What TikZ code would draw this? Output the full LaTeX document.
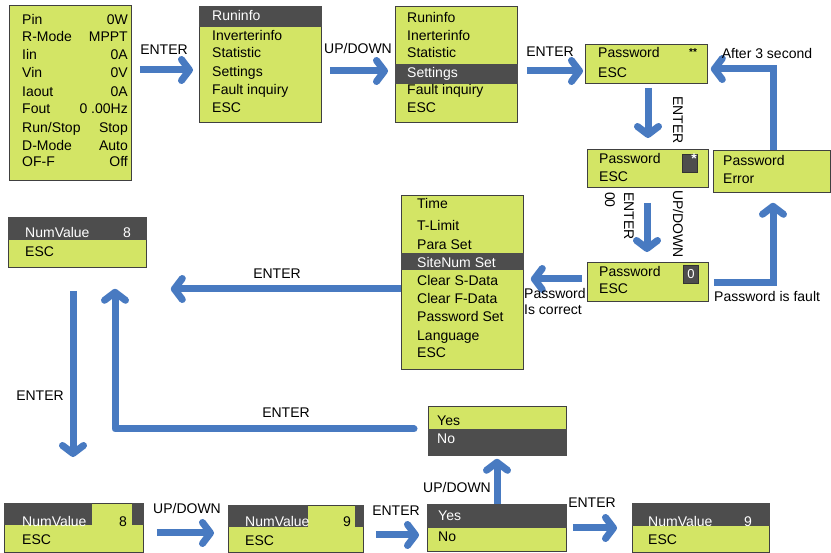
\documentclass[tikz,border=0pt]{standalone}
\usepackage{fontspec}
\setmainfont{Liberation Sans}
\usetikzlibrary{arrows.meta,positioning}

\definecolor{lcdgreen}{RGB}{211,229,101}
\definecolor{lcddark}{RGB}{77,77,77}
\definecolor{flowblue}{RGB}{72,122,193}

\begin{document}
\begin{tikzpicture}[x=1pt, y=-1pt,
  every node/.style={inner sep=0pt},
  scr/.style ={draw=black!75, line width=0.8pt, fill=lcdgreen, anchor=north west},
  key/.style ={draw=black!80, line width=0.6pt, fill=lcddark, minimum width=15, minimum height=18},
  it/.style  ={anchor=base west, font=\fontsize{14}{16}\selectfont},
  itr/.style ={anchor=base east, font=\fontsize{14}{16}\selectfont},
  lbl/.style ={font=\fontsize{14}{16.5}\selectfont},
  fa/.style  ={-{Straight Barb[round, length=8pt, width=21pt]}, line width=7pt, flowblue},
]
\useasboundingbox (0,0) rectangle (831,553);

%% ─── Screens ─────────────────────────────────────────────────────────────────
\node[scr, minimum width=122, minimum height=175] (stat) at (9,5)     {};
\node[scr, minimum width=122, minimum height=116] (run)  at (199,6)   {};
\node[scr, minimum width=122, minimum height=116] (set)  at (395,6)   {};
\node[scr, minimum width=122, minimum height=39]  (pw1)  at (585,44)  {};
\node[scr, minimum width=121, minimum height=38]  (pw2)  at (587,149) {};
\node[scr, minimum width=117, minimum height=42]  (err)  at (713,150) {};
\node[scr, minimum width=121, minimum height=39]  (pw3)  at (587,262) {};
\node[scr, minimum width=122, minimum height=174] (tm)   at (401,195) {};
\node[scr, minimum width=138, minimum height=50]  (nv1)  at (8,217)   {};
\node[scr, minimum width=138, minimum height=49]  (yn1)  at (428,406) {};
\node[scr, minimum width=139, minimum height=49]  (nv2)  at (4,503)   {};
\node[scr, minimum width=135, minimum height=47]  (nv3)  at (228,505) {};
\node[scr, minimum width=139, minimum height=47]  (yn2)  at (427,504) {};
\node[scr, minimum width=137, minimum height=49]  (nv4)  at (632,503) {};

% selected rows (dark bars)
\fill[lcddark] (run.north west) rectangle (run.east |- 0,27);
\fill[lcddark] (set.west |- 0,64)  rectangle (set.east |- 0,84);
\fill[lcddark] (tm.west |- 0,253)  rectangle (tm.east |- 0,270);
\fill[lcddark] (nv1.north west)    rectangle (nv1.east |- 0,240);
\fill[lcddark] (yn1.west |- 0,429) rectangle (yn1.south east);
\fill[lcddark] (nv2.north west)    rectangle (92,525);
\fill[lcddark] (132,503)           rectangle (nv2.east |- 0,525);
\fill[lcddark] (nv3.north west)    rectangle (308,527);
\fill[lcddark] (355,505)           rectangle (nv3.east |- 0,527);
\fill[lcddark] (yn2.north west)    rectangle (yn2.east |- 0,528);
\fill[lcddark] (nv4.north west)    rectangle (nv4.east |- 0,526);

%% ─── Screen texts ────────────────────────────────────────────────────────────
\foreach \l/\r/\y [count=\i] in {Pin/0W/25, R-Mode/MPPT/42, Iin/0A/60, Vin/0V/78,
    Iaout/0A/97, Fout/0 .00Hz/114, {Run/Stop}/Stop/133, D-Mode/Auto/151, OF-F/Off/167} {
  \node[it]  (st-l\i) at (22,\y)  {\l};
  \node[itr] (st-r\i) at (128,\y) {\r};
}

\node[it, white] (run-h) at (212,21) {Runinfo};
\foreach \t/\y [count=\i] in {Inverterinfo/41, Statistic/58, Settings/77, Fault inquiry/95, ESC/113} {
  \node[it] (run-\i) at (212,\y) {\t};
}

\foreach \t/\y/\c [count=\i] in {Runinfo/23/black, Inerterinfo/41/black, Statistic/58/black,
    Settings/78/white, Fault inquiry/95/black, ESC/113/black} {
  \node[it, text=\c] (set-\i) at (407,\y) {\t};
}

\node[it] (pw1-a) at (598,58) {Password};
\node[it] (pw1-b) at (598,78) {ESC};
\node[font=\fontsize{10}{12}\selectfont\bfseries] (pw1-s) at (693,52) {**};

\node[it] (pw2-a) at (599,164) {Password};
\node[it] (pw2-b) at (599,182) {ESC};
\node[key] (pw2-k) at (689.5,163) {};
\node[white, font=\fontsize{14}{14}\selectfont\bfseries] (pw2-s) at (694,159) {*};

\node[it] (err-a) at (723,166) {Password};
\node[it] (err-b) at (723,184) {Error};

\node[it] (pw3-a) at (599,277) {Password};
\node[it] (pw3-b) at (599,294) {ESC};
\node[key, text=white, font=\fontsize{13}{15}\selectfont] (pw3-k) at (691,274) {0};

\foreach \t/\y/\c [count=\i] in {Time/209/black, T-Limit/231/black, Para Set/250/black,
    SiteNum Set/268/white, Clear S-Data/286/black, Clear F-Data/304/black,
    Password Set/322/black, Language/341/black, ESC/358/black} {
  \node[it, text=\c] (tm-\i) at (417,\y) {\t};
}

\node[it, white]         (nv1-a) at (25,238)  {NumValue};
\node[it, white, anchor=base] (nv1-v) at (127,238) {8};
\node[it]                (nv1-b) at (25,257)  {ESC};

\node[it]        (yn1-a) at (437,426) {Yes};
\node[it, white] (yn1-b) at (437,444) {No};

\node[it, white]         (nv2-a) at (22,526)  {NumValue};
\node[it, anchor=base]   (nv2-v) at (123,526) {8};
\node[it]                (nv2-b) at (22,544)  {ESC};

\node[it, white]         (nv3-a) at (245,526) {NumValue};
\node[it, anchor=base]   (nv3-v) at (347,526) {9};
\node[it]                (nv3-b) at (245,546) {ESC};

\node[it, white] (yn2-a) at (438,521) {Yes};
\node[it]        (yn2-b) at (438,541) {No};

\node[it, white]              (nv4-a) at (648,526) {NumValue};
\node[it, white, anchor=base] (nv4-v) at (748,526) {9};
\node[it]                     (nv4-b) at (648,544) {ESC};

%% ─── Flow arrows ─────────────────────────────────────────────────────────────
\draw[fa, shorten <=8, shorten >=6]  (stat.east |- 0,70) -- (run.west |- 0,70);
\draw[fa, shorten <=8, shorten >=7]  (run.east |- 0,71)  -- (set.west |- 0,71);
\draw[fa, shorten <=9, shorten >=2]  (set.east |- 0,71)  -- (pw1.west |- 0,71);
\draw[fa, shorten <=4, shorten >=11] (pw1.south -| 648,0) -- (pw2.north -| 648,0);
\draw[fa, shorten >=3]               (err.north -| 773,0) |- (pw1.east |- 0,69);
\draw[fa, shorten <=15, shorten >=10] (pw2.south -| 647,0) -- (pw3.north -| 647,0);
\draw[fa, shorten <=5, shorten >=10] (pw3.east |- 0,283) -| (err.south -| 773,0);
\draw[fa, shorten <=5, shorten >=7]  (pw3.west |- 0,279) -- (tm.east |- 0,279);
\draw[fa, shorten >=24]              (tm.west |- 0,289)  -- (nv1.east |- 0,289);
\draw[fa, shorten <=23, shorten >=46] (nv1.south -| 73,0) -- (nv2.north -| 73,0);
\draw[fa, line cap=round, line join=round, shorten <=14, shorten >=21]
  (yn1.west |- 0,429) -| (nv1.south -| 115,0);
\draw[fa, shorten <=13, shorten >=14] (nv2.east |- 0,533) -- (nv3.west |- 0,533);
\draw[fa, shorten <=12, shorten >=8]  (nv3.east |- 0,535) -- (yn2.west |- 0,535);
\draw[fa, shorten >=3]                (yn2.north -| 497,0) -- (yn1.south -| 497,0);
\draw[fa, shorten <=6, shorten >=15]  (yn2.east |- 0,528) -- (nv4.west |- 0,528);

%% ─── Key labels ──────────────────────────────────────────────────────────────
\node[lbl] (k1)  at (164,50)  {ENTER};
\node[lbl] (k2)  at (358,48)  {UP/DOWN};
\node[lbl] (k3)  at (550,52)  {ENTER};
\node[lbl, rotate=-90] (k4) at (678,120) {ENTER};
\node[lbl] (k5)  at (767,53)  {After 3 second};
\node[lbl, rotate=-90] (k6a) at (629,216) {ENTER};
\node[lbl, rotate=-90] (k6b) at (610,200) {00};
\node[lbl, rotate=-90] (k6c) at (678,224) {UP/DOWN};
\node[lbl, anchor=west] (k7) at (714,296) {Password is fault};
\node[lbl, anchor=north west, align=left] (k8) at (524,288) {Password\\Is correct};
\node[lbl] (k9)  at (277,274) {ENTER};
\node[lbl] (k10) at (40,396)  {ENTER};
\node[lbl] (k11) at (286,413) {ENTER};
\node[lbl] (k12) at (187,508) {UP/DOWN};
\node[lbl] (k13) at (396,511) {ENTER};
\node[lbl] (k14) at (457,487) {UP/DOWN};
\node[lbl] (k15) at (592,503) {ENTER};

\end{tikzpicture}
\end{document}
